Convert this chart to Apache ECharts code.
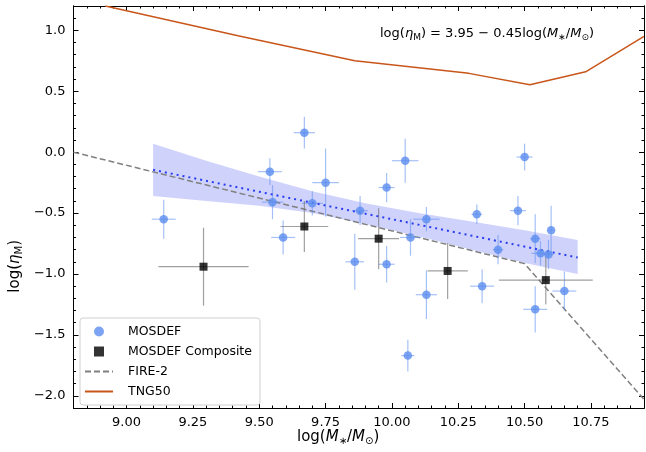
<!DOCTYPE html>
<html>
<head>
<meta charset="utf-8">
<script src="https://cdn.jsdelivr.net/npm/echarts@6/dist/echarts.min.js"></script>
<style>html,body{margin:0;padding:0;background:#fff}#c{width:646px;height:452px}</style>
</head>
<body>
<div id="c"></div>
<script>
// MOSDEF individual galaxies
var mosX  = [9.14, 9.54, 9.55, 9.59, 9.67, 9.70, 9.75, 9.86, 9.88, 9.98, 9.98, 10.05, 10.06, 10.07, 10.13, 10.13, 10.32, 10.34, 10.40, 10.475, 10.50, 10.54, 10.54, 10.56, 10.59, 10.60, 10.65];
var mosY  = [-0.55, -0.16, -0.41, -0.70, 0.16, -0.42, -0.25, -0.90, -0.48, -0.29, -0.92, -0.07, -1.67, -0.70, -0.55, -1.17, -0.51, -1.10, -0.80, -0.48, -0.04, -0.71, -1.29, -0.83, -0.84, -0.64, -1.14];
var mosXe = [0.045, 0.045, 0.04, 0.045, 0.04, 0.04, 0.05, 0.035, 0.03, 0.03, 0.03, 0.05, 0.025, 0.04, 0.05, 0.04, 0.02, 0.045, 0.02, 0.03, 0.03, 0.02, 0.045, 0.035, 0.02, 0.01, 0.045];
var mosYe = [0.16, 0.11, 0.14, 0.14, 0.13, 0.10, 0.28, 0.23, 0.12, 0.12, 0.15, 0.18, 0.13, 0.15, 0.10, 0.20, 0.08, 0.14, 0.12, 0.12, 0.11, 0.20, 0.19, 0.10, 0.12, 0.20, 0.16];
// composites
var compX  = [9.29, 9.67, 9.95, 10.21, 10.58];
var compY  = [-0.94, -0.61, -0.71, -0.975, -1.05];
var compXe = [0.17, 0.09, 0.077, 0.076, 0.177];
var compYe = [0.32, 0.21, 0.25, 0.23, 0.20];
// models
var fireX = [8.8, 10.50, 10.95];
var fireY = [0.0, -0.915, -2.03];
var tngX = [8.92, 9.42, 9.86, 10.29, 10.52, 10.73, 10.95];
var tngY = [1.20, 0.955, 0.75, 0.647, 0.553, 0.66, 0.95];
// fit and band
var fitX = [9.1, 10.7];
var fitA = 3.95, fitB = -0.45;
var bandX  = [9.1, 9.3, 9.5, 9.7, 9.9, 10.1, 10.3, 10.5, 10.7];
var bandUp = [0.07, -0.07, -0.20, -0.32, -0.42, -0.50, -0.57, -0.64, -0.72];
var bandLo = [-0.36, -0.40, -0.44, -0.50, -0.59, -0.69, -0.80, -0.91, -1.00];
var xLabels = [9.0, 9.25, 9.5, 9.75, 10.0, 10.25, 10.5, 10.75];
var yLabels = [-2.0, -1.5, -1.0, -0.5, 0.0, 0.5, 1.0];

var FONT = 'DejaVu Sans';
var XMIN = 8.8, XMAX = 10.95, YMIN = -2.1, YMAX = 1.2;

function pairs(xs, ys) { return xs.map(function (x, i) { return [x, ys[i]]; }); }
function minus(s) { return s.replace('-', '\u2212'); }

function xAx(pos, major, labels) {
  return {
    type: 'value', position: pos, min: XMIN, max: XMAX,
    interval: major ? undefined : 0.05,
    axisLine: { show: true, onZero: false, lineStyle: { color: '#000', width: 1 } },
    axisTick: major ? { show: true, inside: true, length: 5, customValues: xLabels, lineStyle: { color: '#000' } }
                    : { show: true, inside: true, length: 2.5, lineStyle: { color: '#000' } },
    axisLabel: labels ? { show: true, customValues: xLabels, formatter: function (v) { return v.toFixed(2); },
                          fontFamily: FONT, fontSize: 13, color: '#000', margin: 8 } : { show: false },
    splitLine: { show: false }
  };
}
function yAx(pos, major, labels) {
  return {
    type: 'value', position: pos, min: YMIN, max: YMAX,
    interval: major ? undefined : 0.1,
    axisLine: { show: true, onZero: false, lineStyle: { color: '#000', width: 1 } },
    axisTick: major ? { show: true, inside: true, length: 5, customValues: yLabels, lineStyle: { color: '#000' } }
                    : { show: true, inside: true, length: 2.5, lineStyle: { color: '#000' } },
    axisLabel: labels ? { show: true, customValues: yLabels, formatter: function (v) { return minus(v.toFixed(1)); },
                          fontFamily: FONT, fontSize: 13, color: '#000', margin: 8 } : { show: false },
    splitLine: { show: false }
  };
}

function errSeries(xs, ys, xe, ye, color, width) {
  return {
    type: 'custom', xAxisIndex: 0, yAxisIndex: 0, silent: true, z: 3,
    data: xs.map(function (x, i) { return [x, ys[i], xe[i], ye[i]]; }),
    renderItem: function (params, api) {
      var x = api.value(0), y = api.value(1), dx = api.value(2), dy = api.value(3);
      var a = api.coord([x - dx, y]), b = api.coord([x + dx, y]);
      var c = api.coord([x, y - dy]), d = api.coord([x, y + dy]);
      var st = { stroke: color, lineWidth: width };
      return { type: 'group', children: [
        { type: 'line', shape: { x1: a[0], y1: a[1], x2: b[0], y2: b[1] }, style: st },
        { type: 'line', shape: { x1: c[0], y1: c[1], x2: d[0], y2: d[1] }, style: st }
      ] };
    }
  };
}

var option = {
  animation: false,
  grid: { left: 73.5, right: 2, top: 6, bottom: 44 },
  xAxis: [xAx('bottom', true, true), xAx('bottom', false, false), xAx('top', true, false), xAx('top', false, false)],
  yAxis: [yAx('left', true, true), yAx('left', false, false), yAx('right', true, false), yAx('right', false, false)],
  legend: {
    left: 80, top: 318, orient: 'vertical', itemGap: 7, itemWidth: 28, itemHeight: 10,
    backgroundColor: '#fff', borderColor: '#d0d0d0', borderWidth: 1, borderRadius: 3, padding: [7, 8, 7, 4],
    textStyle: { fontFamily: FONT, fontSize: 12.5, color: '#000', padding: [0, 0, 0, 10] },
    data: [
      { name: 'MOSDEF', icon: 'circle' },
      { name: 'MOSDEF Composite', icon: 'path://M0,0h10v10h-10z' },
      { name: 'FIRE-2', itemStyle: { opacity: 0 } },
      { name: 'TNG50', itemStyle: { opacity: 0 } }
    ]
  },
  graphic: [
    { type: 'text', left: 380, top: 27, style: {
      rich: { n: { fontFamily: FONT, fontSize: 13, fill: '#000' },
              s: { fontFamily: FONT, fontSize: 9, fill: '#000', verticalAlign: 'bottom', padding: [8, 0, 0, 0] },
              i: { fontFamily: FONT, fontSize: 13, fontStyle: 'italic', fill: '#000' } },
      text: '{n|log(}{i|\u03B7}{s|M}{n|) = 3.95 \u2212 0.45log(}{i|M}{s|\u2217}{n|/}{i|M}{s|\u2299}{n|)}' } },
    { type: 'text', left: 297, top: 430, style: {
      rich: { n: { fontFamily: FONT, fontSize: 15, fill: '#000' },
              s: { fontFamily: FONT, fontSize: 10, fill: '#000', padding: [8, 0, 0, 0] },
              i: { fontFamily: FONT, fontSize: 15, fontStyle: 'italic', fill: '#000' } },
      text: '{n|log(}{i|M}{s|\u2217}{n|/}{i|M}{s|\u2299}{n|)}' } },
    { type: 'text', left: 8, top: 240, rotation: Math.PI / 2, originX: 0, originY: 0, style: {
      rich: { n: { fontFamily: FONT, fontSize: 15, fill: '#000' },
              s: { fontFamily: FONT, fontSize: 10, fill: '#000', padding: [8, 0, 0, 0] },
              i: { fontFamily: FONT, fontSize: 15, fontStyle: 'italic', fill: '#000' } },
      text: '{n|log(}{i|\u03B7}{s|M}{n|)}' } }
  ],
  series: [
    {
      type: 'custom', name: 'band', silent: true, z: 1,
      data: [0],
      renderItem: function (params, api) {
        var pts = [];
        bandX.forEach(function (x, i) { pts.push(api.coord([x, bandUp[i]])); });
        for (var i = bandX.length - 1; i >= 0; i--) pts.push(api.coord([bandX[i], bandLo[i]]));
        return { type: 'polygon', shape: { points: pts }, style: { fill: 'rgba(110,120,245,0.33)' } };
      }
    },
    { name: 'FIRE-2', type: 'line', data: pairs(fireX, fireY), symbol: 'none', z: 2,
      itemStyle: { color: '#808080' }, lineStyle: { color: '#808080', width: 1.5, type: [6, 3] } },
    { name: 'TNG50', type: 'line', data: pairs(tngX, tngY), symbol: 'none', z: 2,
      itemStyle: { color: '#c8561a' }, lineStyle: { color: '#c8561a', width: 1.5 } },
    { name: 'fit', type: 'line', symbol: 'none', z: 4,
      data: fitX.map(function (x) { return [x, fitA + fitB * x]; }),
      lineStyle: { color: '#2a3cf0', width: 2, type: [2, 4] } },
    errSeries(mosX, mosY, mosXe, mosYe, 'rgba(91,141,239,0.55)', 1.2),
    errSeries(compX, compY, compXe, compYe, 'rgba(120,120,120,0.7)', 1.2),
    { name: 'MOSDEF', type: 'scatter', data: pairs(mosX, mosY), symbol: 'circle', symbolSize: 8.5, z: 5,
      itemStyle: { color: '#5b8def' } },
    { name: 'MOSDEF Composite', type: 'scatter', data: pairs(compX, compY), symbol: 'rect', symbolSize: 8, z: 6,
      itemStyle: { color: '#000' } }
  ]
};
echarts.init(document.getElementById('c')).setOption(option);
</script>
</body>
</html>
